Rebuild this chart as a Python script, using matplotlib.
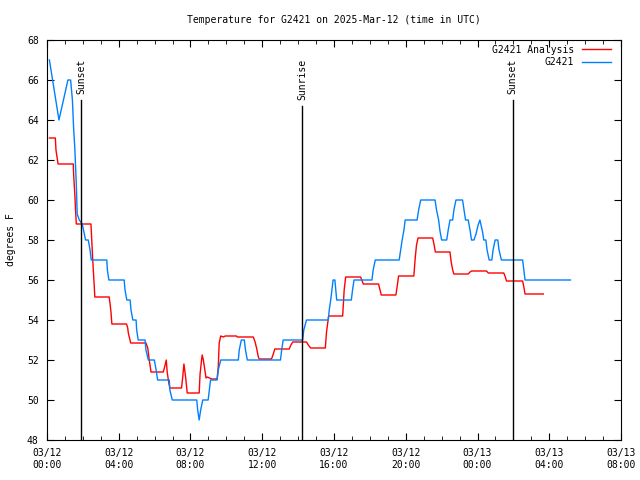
import matplotlib
matplotlib.use("Agg")
import matplotlib.pyplot as plt
import matplotlib.dates as mdates
import pandas as pd

plt.rcParams['font.family'] = ['DejaVu Sans Mono']
plt.rcParams['font.size'] = 7

start = pd.Timestamp("2025-03-12 00:00")

# minutes after 03/12 00:00 UTC, degrees F
obs_min = [8, 40, 70, 79, 85, 89, 93, 98, 101, 108, 118, 129, 138, 144, 148, 200, 202, 207,
           258, 261, 267, 278, 281, 287, 298, 300, 305, 328, 331, 339, 359, 365, 370, 409,
           411, 419, 501, 504, 509, 514, 521, 539, 543, 547, 569, 573, 581, 640, 643, 650,
           660, 664, 670, 781, 785, 790, 855, 859, 868, 941, 944, 949, 953, 957, 963, 966,
           969, 1018, 1022, 1027, 1087, 1091, 1098, 1178, 1183, 1188, 1194, 1198, 1238,
           1243, 1250, 1298, 1303, 1310, 1314, 1320, 1337, 1342, 1348, 1357, 1361, 1368,
           1390, 1395, 1400, 1409, 1415, 1420, 1428, 1435, 1442, 1448, 1457, 1461, 1468,
           1472, 1479, 1488, 1492, 1499, 1508, 1512, 1520, 1591, 1595, 1599, 1751]
obs_val = [67.0, 64.0, 66.0, 66.0, 65.0, 63.6, 62.6, 60.8, 59.3, 59.0, 58.8, 58.0, 58.0, 57.5,
           57.0, 57.0, 56.5, 56.0, 56.0, 55.5, 55.0, 55.0, 54.5, 54.0, 54.0, 53.5, 53.0,
           53.0, 52.5, 52.0, 52.0, 51.5, 51.0, 51.0, 50.5, 50.0, 50.0, 49.5, 49.0, 49.5,
           50.0, 50.0, 50.5, 51.0, 51.0, 51.5, 52.0, 52.0, 52.5, 53.0, 53.0, 52.5, 52.0,
           52.0, 52.5, 53.0, 53.0, 53.5, 54.0, 54.0, 54.5, 55.0, 55.5, 56.0, 56.0, 55.5,
           55.0, 55.0, 55.5, 56.0, 56.0, 56.5, 57.0, 57.0, 57.5, 58.0, 58.5, 59.0, 59.0,
           59.5, 60.0, 60.0, 59.5, 59.0, 58.5, 58.0, 58.0, 58.5, 59.0, 59.0, 59.5, 60.0,
           60.0, 59.5, 59.0, 59.0, 58.5, 58.0, 58.0, 58.3, 58.75, 59.0, 58.4, 58.0, 58.0,
           57.5, 57.0, 57.0, 57.5, 58.0, 58.0, 57.5, 57.0, 57.0, 56.5, 56.0, 56.0]

ana_min = [8, 28, 30, 37, 88, 89, 93, 96, 98, 147, 149, 153, 158, 160, 208, 211, 214, 217,
           266, 270, 272, 280, 331, 337, 342, 348, 389, 395, 399, 402, 408, 411, 450, 454,
           458, 464, 469, 509, 512, 517, 519, 523, 527, 532, 536, 551, 569, 573, 576, 581,
           590, 596, 634, 636, 690, 696, 701, 707, 710, 751, 757, 762, 810, 816, 822, 868,
           874, 882, 931, 935, 942, 989, 994, 999, 1049, 1053, 1058, 1109, 1114, 1118,
           1167, 1171, 1176, 1227, 1232, 1236, 1241, 1290, 1295, 1299, 1348, 1352, 1357,
           1361, 1409, 1415, 1420, 1470, 1476, 1528, 1533, 1537, 1591, 1595, 1599, 1660]
ana_val = [63.1, 63.1, 62.5, 61.8, 61.8, 61.3, 60.3, 59.35, 58.8, 58.8, 58.2, 57.0, 55.7,
           55.15, 55.15, 54.8, 54.4, 53.8, 53.8, 53.6, 53.35, 52.85, 52.85, 52.6, 52.0,
           51.4, 51.4, 51.75, 52.0, 51.4, 50.8, 50.6, 50.6, 51.15, 51.8, 51.1, 50.35,
           50.35, 51.3, 52.0, 52.25, 52.0, 51.6, 51.1, 51.15, 51.05, 51.05, 51.7, 52.85,
           53.2, 53.15, 53.2, 53.2, 53.15, 53.15, 52.9, 52.6, 52.15, 52.05, 52.05, 52.3,
           52.55, 52.55, 52.75, 52.9, 52.9, 52.75, 52.6, 52.6, 53.4, 54.2, 54.2, 55.5,
           56.15, 56.15, 56.0, 55.8, 55.8, 55.5, 55.25, 55.25, 55.65, 56.2, 56.2, 57.15,
           57.75, 58.1, 58.1, 57.75, 57.4, 57.4, 56.9, 56.5, 56.3, 56.3, 56.4, 56.45, 56.45,
           56.35, 56.35, 56.15, 55.95, 55.95, 55.65, 55.3, 55.3]

events = ["Sunset", "Sunrise", "Sunset"]
event_min = [114, 853, 1558]
event_top = [65.0, 64.7, 65.0]

obs_t = start + pd.to_timedelta(obs_min, unit="m")
ana_t = start + pd.to_timedelta(ana_min, unit="m")
event_t = start + pd.to_timedelta(event_min, unit="m")

fig = plt.figure(figsize=(6.4, 4.8), dpi=100)
ax = fig.add_axes([47 / 640, 40 / 480, 574 / 640, 400 / 480])

ax.plot(ana_t, ana_val, color="#ff0000", lw=1, label="G2421 Analysis")
ax.plot(obs_t, obs_val, color="#0080ff", lw=1, label="G2421")

for name, t, top in zip(events, event_t, event_top):
    ax.plot([t, t], [48, top], color="black", lw=1)
    ax.text(t, top + 0.3, name, rotation=90, ha="center", va="bottom")

ax.set_xlim(start, start + pd.Timedelta(hours=32))
ax.set_ylim(48, 68)
ax.set_yticks(range(48, 69, 2))
ax.xaxis.set_major_locator(mdates.HourLocator(interval=4))
ax.xaxis.set_minor_locator(mdates.HourLocator(interval=1))
ax.xaxis.set_major_formatter(mdates.DateFormatter("%m/%d\n%H:%M"))
ax.tick_params(which="both", direction="in", top=True, right=True)
ax.tick_params(which="major", length=5, pad=6)
ax.tick_params(which="minor", length=3)
ax.set_ylabel("degrees F", labelpad=8)
ax.set_title("Temperature for G2421 on 2025-Mar-12 (time in UTC)", fontsize=7, pad=12)

ax.legend(loc="upper right", bbox_to_anchor=(1, 1.013), frameon=False, markerfirst=False,
          handlelength=3, borderaxespad=0.6, labelspacing=0.3)

fig.savefig("out.png", dpi=100)
